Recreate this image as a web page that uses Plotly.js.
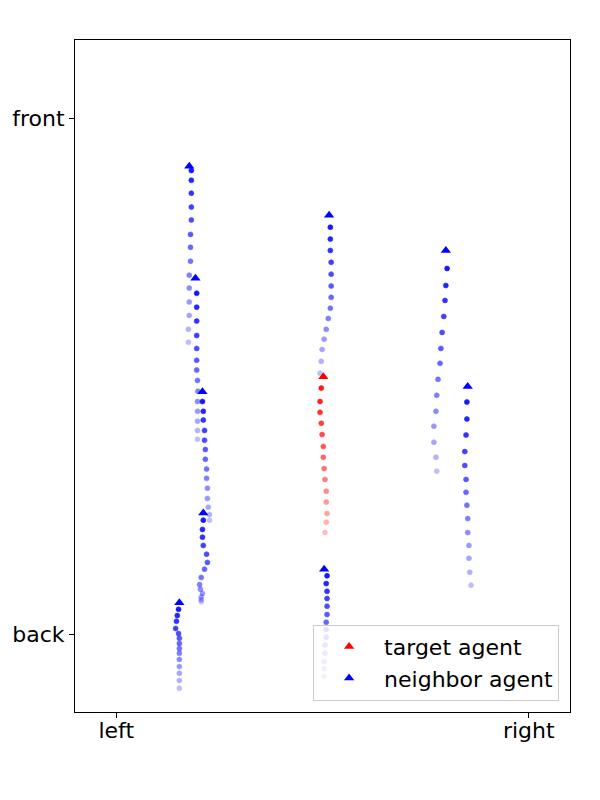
<!DOCTYPE html>
<html>
<head>
<meta charset="utf-8">
<script src="https://cdn.plot.ly/plotly-3.0.1.min.js"></script>
<style>
  body { margin: 0; background: #fff; }
  #chart { width: 600px; height: 800px; }
</style>
</head>
<body>
<div id="chart"></div>
<script>
// ─────────────────────────────
// DATOS (lateral: left=0, right=10 · longitudinal: back=0, front=10)
// ─────────────────────────────
const X_TICKS = [0, 10];
const X_LABELS = ['left', 'right'];
const Y_TICKS = [0, 10];
const Y_LABELS = ['back', 'front'];

// trayectorias pasadas (de la más reciente a la más antigua)
const nb1X = [1.82, 1.82, 1.82, 1.82, 1.82, 1.80, 1.80, 1.80, 1.77, 1.77, 1.77, 1.77, 1.75, 1.75];
const nb1Y = [8.99, 8.80, 8.55, 8.28, 8.03, 7.75, 7.50, 7.23, 6.96, 6.71, 6.44, 6.18, 5.91, 5.66];

const nb2X = [1.95, 1.95, 1.95, 1.95, 1.95, 1.95, 1.95, 1.97, 1.98, 1.97, 1.97, 1.97, 1.97, 1.97];
const nb2Y = [6.61, 6.34, 6.07, 5.79, 5.54, 5.31, 5.12, 4.92, 4.71, 4.51, 4.32, 4.13, 3.95, 3.78];

const nb3X = [2.09, 2.11, 2.11, 2.14, 2.14, 2.16, 2.16, 2.19, 2.19, 2.21, 2.21, 2.23, 2.26, 2.26];
const nb3Y = [4.51, 4.32, 4.15, 3.95, 3.76, 3.58, 3.39, 3.20, 3.02, 2.83, 2.63, 2.46, 2.32, 2.21];

const nb4X = [2.11, 2.09, 2.09, 2.11, 2.19, 2.21, 2.14, 2.06, 2.02, 2.04, 2.09, 2.06, 2.06, 2.06];
const nb4Y = [2.21, 2.03, 1.88, 1.72, 1.55, 1.39, 1.26, 1.10, 0.96, 0.87, 0.79, 0.72, 0.67, 0.63];

const nb5X = [1.51, 1.48, 1.46, 1.44, 1.51, 1.53, 1.53, 1.53, 1.53, 1.53, 1.53, 1.53, 1.53, 1.53];
const nb5Y = [0.48, 0.36, 0.25, 0.11, 0.01, -0.08, -0.18, -0.28, -0.37, -0.49, -0.63, -0.76, -0.90, -1.05];

const nb6X = [5.19, 5.19, 5.19, 5.21, 5.21, 5.21, 5.21, 5.19, 5.14, 5.09, 5.04, 4.99, 4.97, 4.94];
const nb6Y = [7.89, 7.66, 7.44, 7.21, 6.98, 6.75, 6.53, 6.32, 6.12, 5.91, 5.72, 5.52, 5.29, 5.06];

const nb7X = [5.11, 5.09, 5.11, 5.11, 5.11, 5.11, 5.09, 5.09, 5.09, 5.06, 5.06, 5.04, 5.04, 5.04];
const nb7Y = [1.13, 0.98, 0.83, 0.69, 0.54, 0.38, 0.23, 0.09, -0.06, -0.21, -0.37, -0.53, -0.67, -0.82];

const nb8X = [8.02, 7.99, 7.97, 7.94, 7.90, 7.87, 7.85, 7.80, 7.77, 7.75, 7.70, 7.70, 7.75, 7.77];
const nb8Y = [7.09, 6.76, 6.47, 6.16, 5.85, 5.54, 5.25, 4.94, 4.63, 4.32, 4.03, 3.72, 3.43, 3.16];

const nb9X = [8.50, 8.50, 8.48, 8.45, 8.45, 8.48, 8.48, 8.50, 8.52, 8.52, 8.55, 8.55, 8.57, 8.60];
const nb9Y = [4.50, 4.17, 3.86, 3.54, 3.27, 3.00, 2.75, 2.50, 2.24, 1.97, 1.72, 1.47, 1.20, 0.95];

const targetX = [4.97, 4.94, 4.94, 4.97, 4.99, 5.02, 5.02, 5.04, 5.06, 5.09, 5.09, 5.11, 5.09, 5.06];
const targetY = [4.77, 4.51, 4.30, 4.09, 3.87, 3.64, 3.43, 3.21, 3.00, 2.77, 2.56, 2.34, 2.17, 1.97];

// posición actual
const neighborHeadX = [1.77, 1.92, 2.09, 2.11, 1.53, 5.16, 5.04, 7.99, 8.52];
const neighborHeadY = [9.07, 6.90, 4.70, 2.35, 0.61, 8.12, 1.26, 7.44, 4.80];
const targetHeadX = [5.02];
const targetHeadY = [4.99];


// ─────────────────────────────
// ESTILO
// ─────────────────────────────
const FONT = 'DejaVu Sans, Arial, sans-serif';
const BLUE = '#0000ff';
const RED = '#ff0000';


// ─────────────────────────────
// TRAZAS
// ─────────────────────────────
function _trail(x, y, color) {
  // opacidad que se desvanece hacia el pasado
  const n = x.length;
  const alpha = x.map((_, i) => 0.9 - 0.65 * i / (n - 1));
  return {
    x, y,
    type: 'scatter',
    mode: 'markers',
    showlegend: false,
    hoverinfo: 'skip',
    marker: {
      size: 5,
      color: color,
      opacity: alpha,
      line: { width: 0.6, color: color }
    }
  };
}

const neighborTrails = [
  [nb1X, nb1Y], [nb2X, nb2Y], [nb3X, nb3Y], [nb4X, nb4Y], [nb5X, nb5Y],
  [nb6X, nb6Y], [nb7X, nb7Y], [nb8X, nb8Y], [nb9X, nb9Y]
];

const traces = neighborTrails.map(([x, y]) => _trail(x, y, BLUE));
traces.push(_trail(targetX, targetY, RED));

traces.push({
  x: targetHeadX, y: targetHeadY,
  type: 'scatter', mode: 'markers',
  name: 'target agent',
  marker: { symbol: 'triangle-up', size: 9, color: RED }
});
traces.push({
  x: neighborHeadX, y: neighborHeadY,
  type: 'scatter', mode: 'markers',
  name: 'neighbor agent',
  marker: { symbol: 'triangle-up', size: 9, color: BLUE }
});


// ─────────────────────────────
// LAYOUT
// ─────────────────────────────
const axisBase = {
  showgrid: false,
  zeroline: false,
  showline: true,
  linecolor: '#000',
  linewidth: 1,
  mirror: true,
  ticks: 'outside',
  ticklen: 5,
  tickwidth: 1,
  tickcolor: '#000',
  tickmode: 'array',
  tickfont: { family: FONT, size: 22, color: '#000' }
};

const layout = {
  width: 600,
  height: 800,
  margin: { l: 75, r: 30, t: 40, b: 88 },
  paper_bgcolor: '#fff',
  plot_bgcolor: '#fff',
  font: { family: FONT, color: '#000' },
  xaxis: Object.assign({}, axisBase, {
    range: [-1, 11],
    tickvals: X_TICKS,
    ticktext: X_LABELS,
    ticklabelstandoff: -6
  }),
  yaxis: Object.assign({}, axisBase, {
    range: [-1.51, 11.52],
    tickvals: Y_TICKS,
    ticktext: Y_LABELS
  }),
  legend: {
    x: 0.978, y: 0.017,
    xanchor: 'right', yanchor: 'bottom',
    bgcolor: 'rgba(255,255,255,0.8)',
    bordercolor: '#cccccc',
    borderwidth: 1,
    itemwidth: 60,
    font: { family: FONT, size: 22, color: '#000' }
  },
  showlegend: true
};

Plotly.newPlot('chart', traces, layout, { displayModeBar: false, staticPlot: true });
</script>
</body>
</html>
